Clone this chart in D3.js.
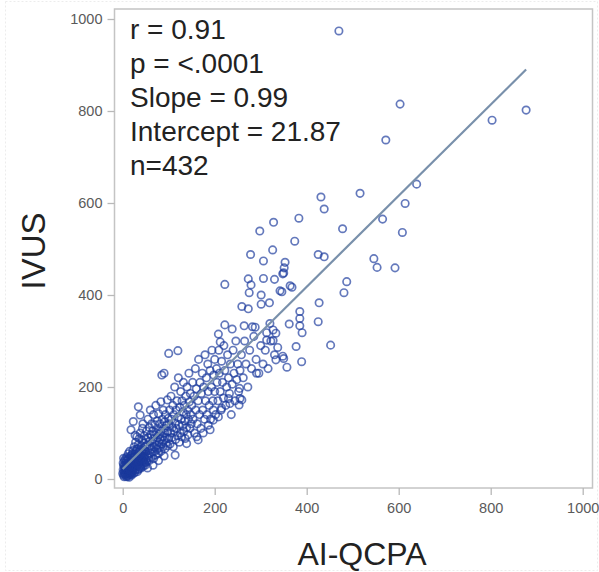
<!DOCTYPE html>
<html>
<head>
<meta charset="utf-8">
<script src="https://cdn.jsdelivr.net/npm/d3@7"></script>
<style>
  body { margin: 0; background: #fff; }
  svg { display: block; font-family: "Liberation Sans", Arial, sans-serif; }
</style>
</head>
<body>
<div id="chart"></div>
<script>
// stats shown in the corner
var statLines = ["r = 0.91", "p = <.0001", "Slope = 0.99", "Intercept = 21.87", "n=432"];
var slope = 0.99, intercept = 21.87;
var tickValues = [0, 200, 400, 600, 800, 1000];

// [AI-QCPA, IVUS] pairs
var outliers = [
  [470,974],[603,815],[572,737],[803,780],[877,802],[639,641],[516,621],[431,613],
  [614,599],[608,536],[565,565],[592,459],[438,587],[478,544],[383,567],[328,558],
  [298,539],[374,517],[326,498],[278,488],[306,474],[425,488],[438,483],[353,471],
  [351,459],[350,448],[546,479],[553,460],[273,435],[279,422],[222,423],[306,436],
  [330,434],[348,446],[364,420],[368,417],[342,409],[275,405],[301,400],[301,380],
  [319,383],[259,375],[273,370],[427,383],[487,429],[481,405],[346,407],[385,364],
  [385,349],[385,333],[390,318],[362,337],[425,342],[452,291],[377,288],[348,267],
  [350,262],[389,255],[357,243],[222,335],[238,326],[208,315],[212,298],[264,333],
  [282,331],[288,330],[320,338],[327,324],[313,318],[333,317],[327,301],[313,302],
  [337,286],[333,259],[291,230],[254,197],[255,175],[259,172],[230,175],[253,161],
  [233,164],[215,154],[208,135],[197,128],[190,107],[186,117],[161,92],[164,85],
  [139,77],[114,52],[34,157],[38,139],[23,125],[18,107],[100,273],[120,279],
  [85,226],[90,230]
];

var coreLow = [
  [2,8],[3,15],[4,22],[5,10],[6,30],[7,18],[8,5],[8,40],[9,25],[10,12],[10,35],[11,20],
  [12,28],[12,8],[13,45],[14,16],[14,32],[15,22],[15,10],[16,38],[16,26],[17,14],[17,50],
  [18,30],[18,20],[19,8],[19,42],[20,24],[20,34],[1,20],[2,30],[3,5],[4,40],[5,25],[6,12],
  [7,35],[9,48],[11,6],[12,55],[13,18],[14,4],[15,60],[16,12],[17,36],[18,46],[19,16],
  [20,52],[0,12],[1,35],[3,28],[5,18],[6,44],[7,8],[8,26],[9,14],[10,22],[11,42],[13,30],
  [14,24],[16,20],[18,10],[19,28],[20,14],[2,45],[4,12]
];

var coreMid = [
  [21,40],[22,18],[22,62],[23,30],[24,48],[24,22],[25,36],[25,70],[26,14],[26,55],[27,28],
  [27,44],[28,80],[28,20],[29,35],[29,60],[30,26],[30,48],[31,92],[31,38],[32,16],[32,66],
  [33,30],[33,54],[34,42],[34,75],[35,22],[35,58],[36,34],[36,88],[37,46],[37,28],[38,64],
  [38,100],[39,38],[39,52],[40,24],[40,72],[41,44],[41,60],[42,32],[42,84],[43,50],[43,110],
  [44,40],[44,66],[45,28],[45,56],[46,78],[46,46],[47,36],[47,94],[48,62],[48,50],[49,30],
  [49,70],[50,42],[50,86],[21,55],[23,12],[26,36],[30,64],[33,20],[36,52],[39,26],[42,56],
  [45,40],[48,34],[27,95],[44,120],
  [51,60],[52,104],[52,38],[53,74],[54,50],[55,90],[55,130],[56,46],[57,68],[58,112],[58,40],
  [59,82],[60,56],[60,150],[61,96],[62,66],[62,48],[63,120],[64,78],[65,58],[65,104],[66,86],
  [67,44],[67,140],[68,70],[69,96],[70,60],[70,118],[71,82],[72,52],[72,160],[73,100],[74,74],
  [75,126],[75,64],[76,90],[77,108],[78,56],[78,142],[79,80],[80,98],[80,68],[81,120],[82,86],
  [83,60],[83,168],[84,104],[85,76],[86,130],[87,92],[88,70],[88,150],[89,110],[90,84],
  [91,124],[92,66],[92,100],[93,140],[94,78],[95,116],[96,90],[97,172],[98,104],[98,72],
  [99,132],[100,88],[54,24],[66,30],[78,40],[90,50]
];

var coreHigh = [
  [101,120],[102,150],[103,76],[104,100],[105,180],[106,130],[107,90],[108,112],[109,160],
  [110,70],[111,140],[112,104],[113,200],[114,122],[115,86],[116,150],[117,110],[118,170],
  [119,94],[120,134],[121,220],[122,118],[123,80],[124,156],[125,100],[126,190],[127,130],
  [128,92],[129,170],[130,116],[131,146],[132,210],[133,104],[134,160],[135,126],[136,88],
  [137,180],[138,140],[139,112],[140,200],[141,150],[142,96],[143,130],[144,230],[145,168],
  [146,110],[147,186],[148,140],[149,120],[150,160],
  [152,210],[153,130],[155,180],[156,100],[158,240],[159,150],[160,196],[162,120],[164,170],
  [165,260],[167,140],[168,210],[170,110],[171,186],[173,230],[174,150],[176,200],[178,130],
  [179,270],[180,170],[182,220],[183,140],[185,250],[186,190],[188,160],[190,236],[191,130],
  [193,200],[194,280],[196,170],[197,150],[198,226],[200,190],[200,260],[175,100],
  [202,140],[204,240],[205,210],[207,170],[209,280],[210,230],[212,190],[214,150],[215,256],
  [217,210],[219,176],[220,290],[222,236],[224,160],[226,200],[228,270],[230,220],[232,186],
  [234,250],[236,140],[238,206],[240,280],[242,230],[244,170],[246,300],[248,216],[250,250],
  [252,190],[255,236],[258,270],
  [262,220],[265,300],[268,250],[272,200],[276,280],[280,240],[285,310],[290,260],[296,230],
  [300,290],[305,250],[310,280],[316,240],[322,300],[330,270]
];

var points = coreLow.concat(coreMid, coreHigh, outliers);

var width = 599, height = 572;
var frame = { left: 114.5, right: 592.5, top: 9, bottom: 488 };

var svg = d3.select("#chart").append("svg")
  .attr("width", width).attr("height", height);

// faint outer border of the picture
svg.append("rect")
  .attr("x", 5.5).attr("y", 1.5).attr("width", 592).attr("height", 569)
  .attr("fill", "none").attr("stroke", "#ececec").attr("stroke-dasharray", "2,2");

var x = d3.scaleLinear().domain([0, 1000]).range([122.7, 582.7]);
var y = d3.scaleLinear().domain([0, 1000]).range([479, 19]);

svg.append("rect")
  .attr("x", frame.left).attr("y", frame.top)
  .attr("width", frame.right - frame.left).attr("height", frame.bottom - frame.top)
  .attr("fill", "none").attr("stroke", "#c4c4c4").attr("stroke-width", 1.5);

var xAxis = svg.append("g")
  .attr("transform", "translate(0," + frame.bottom + ")")
  .call(d3.axisBottom(x).tickValues(tickValues).tickSize(7).tickPadding(8).tickFormat(d3.format("d")));
var yAxis = svg.append("g")
  .attr("transform", "translate(" + frame.left + ",0)")
  .call(d3.axisLeft(y).tickValues(tickValues).tickSize(7).tickPadding(5).tickFormat(d3.format("d")));

[xAxis, yAxis].forEach(function(g) {
  g.select(".domain").remove();
  g.selectAll(".tick line").attr("stroke", "#b8b8b8").attr("stroke-width", 1.3);
  g.selectAll(".tick text")
    .attr("fill", "#5a5a5a")
    .style("font-size", "14.5px")
    .style("font-family", "'Liberation Sans', Arial, sans-serif");
});

svg.append("g").selectAll("circle")
  .data(points)
  .enter().append("circle")
  .attr("cx", function(d) { return x(d[0]); })
  .attr("cy", function(d) { return y(d[1]); })
  .attr("r", 3.7)
  .attr("fill", "none")
  .attr("stroke", "#1a3a9c")
  .attr("stroke-opacity", 0.68)
  .attr("stroke-width", 1.7);

// fit line over the data range
var xr = d3.extent(points, function(d) { return d[0]; });
svg.append("line")
  .attr("x1", x(xr[0])).attr("y1", y(intercept + slope * xr[0]))
  .attr("x2", x(xr[1])).attr("y2", y(intercept + slope * xr[1]))
  .attr("stroke", "#7990ab").attr("stroke-width", 2.2);

svg.append("g").selectAll("text")
  .data(statLines)
  .enter().append("text")
  .attr("x", 130)
  .attr("y", function(d, i) { return 38.5 + i * 34.2; })
  .attr("fill", "#222")
  .style("font-size", "28px")
  .text(function(d) { return d; });

svg.append("text")
  .attr("x", 362).attr("y", 565)
  .attr("text-anchor", "middle")
  .attr("fill", "#222")
  .style("font-size", "32px")
  .text("AI-QCPA");

svg.append("text")
  .attr("transform", "translate(45,251) rotate(-90)")
  .attr("text-anchor", "middle")
  .attr("fill", "#222")
  .style("font-size", "33px")
  .text("IVUS");
</script>
</body>
</html>
